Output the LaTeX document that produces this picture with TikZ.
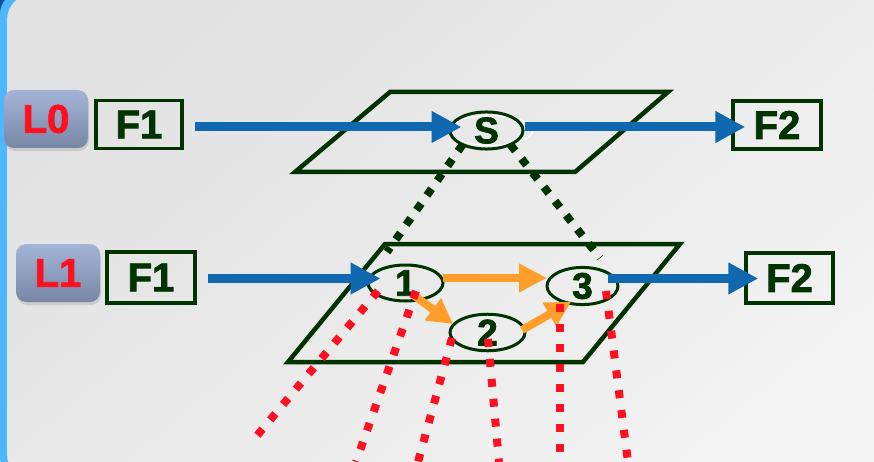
\documentclass[tikz,border=0pt]{standalone}
\usepackage{fontspec}
\setmainfont{Liberation Sans}
\newfontfamily\heavyfont{Liberation Sans}[BoldFeatures={FakeBold=2}]
\usetikzlibrary{arrows.meta,shapes.geometric,shadows}
\definecolor{dkgreen}{HTML}{003300}
\definecolor{flowblue}{HTML}{1068B0}
\definecolor{lightband}{HTML}{4DB8FF}
\definecolor{darkband}{HTML}{1050A0}
\definecolor{orangeA}{HTML}{FF9E2A}
\definecolor{redD}{HTML}{FF1020}
\definecolor{badgeTop}{HTML}{A3B5D6}
\definecolor{badgeBot}{HTML}{7887A6}
\definecolor{bgTop}{HTML}{E2E2E2}
\definecolor{bgBot}{HTML}{F3F3F3}
\tikzset{
  badge/.style={rounded corners=10pt, top color=badgeTop, bottom color=badgeBot, draw=none,
    minimum width=84pt, minimum height=58pt, inner sep=0pt,
    drop shadow={opacity=0.25, shadow xshift=1pt, shadow yshift=-3pt},
    text=redD, font=\heavyfont\bfseries\fontsize{40}{40}\selectfont},
  fbox/.style={draw=dkgreen, line width=3.5pt, inner sep=0pt, text=dkgreen,
    font=\heavyfont\bfseries\fontsize{40}{40}\selectfont},
  ell/.style={ellipse, draw=dkgreen, line width=3pt, inner sep=0pt, text=dkgreen,
    font=\heavyfont\bfseries\fontsize{37}{37}\selectfont},
  plane/.style={draw=dkgreen, line width=4.5pt, line join=miter},
  bluearrow/.style={draw=flowblue, line width=9pt, -{Triangle[length=30pt,width=30pt]}},
  orangearrow/.style={draw=orangeA, line width=8pt, -{Triangle[length=28pt,width=27pt]}},
  orangesmall/.style={draw=orangeA, line width=8pt, -{Triangle[length=25pt,width=26pt]}},
  blackdots/.style={draw=dkgreen, line width=8pt, dash pattern=on 8pt off 10pt},
  reddots/.style={draw=redD, line width=8pt, dash pattern=on 8pt off 12pt},
}
\begin{document}
\begin{tikzpicture}[x=1pt,y=-1pt]
\useasboundingbox (0,0) rectangle (874,462);
% background
\fill[darkband] (0,0) rectangle (40,40);
\fill[lightband, rounded corners=22pt] (0,-8) rectangle (900,480);
\shade[top color=bgTop, bottom color=bgBot, shading angle=40, rounded corners=26pt] (7,-6) rectangle (900,480);
% planes
\coordinate (pa) at (390,92); \coordinate (pb) at (668,92);
\coordinate (pc) at (575,172); \coordinate (pd) at (295,172);
\draw[plane] (pa) -- (pb) -- (pc) -- (pd) -- cycle;
\coordinate (qa) at (385,244); \coordinate (qb) at (680,244);
\coordinate (qc) at (583,362); \coordinate (qd) at (288,362);
\draw[plane] (qa) -- (qb) -- (qc) -- (qd) -- cycle;
% badges and boxes
\node[badge] (L0) at (46,119) {L0};
\node[badge] (L1) at (58,273) {L1};
\node[fbox, minimum width=86pt, minimum height=48pt] (F1a) at (139,124.5) {F1};
\node[fbox, minimum width=88pt, minimum height=48pt] (F2a) at (777,125) {F2};
\node[fbox, minimum width=88pt, minimum height=51pt] (F1b) at (151,277.5) {F1};
\node[fbox, minimum width=87pt, minimum height=50pt] (F2b) at (789.5,278) {F2};
% ellipses
\coordinate (dl) at (387,252);
\coordinate (dr) at (600,258);
\draw[white, line width=1.2pt] (491,130.5) ellipse (42pt and 15pt);
\node[ell, minimum width=73pt, minimum height=35pt] (S) at (486.5,130.5) {S};
\node[ell, minimum width=75pt, minimum height=34pt] (n1) at (405.5,283) {1};
\node[ell, minimum width=75pt, minimum height=35pt] (n2) at (487.5,332.5) {2};
\node[ell, minimum width=71pt, minimum height=32pt] (n3) at (582.5,286) {3};
% black dotted connections
\draw[blackdots] (S.south west) ++(3,0) -- (dl);
\draw[blackdots] (S.south east) ++(-3,0) -- (dr);
% blue flows
\coordinate (ytop) at (0,127);
\coordinate (ybot) at (0,278.5);
\draw[bluearrow, shorten <=11pt, shorten >=-13pt] (F1a.east |- ytop) -- (S.west |- ytop);
\draw[bluearrow, shorten >=-14pt] (S.east |- ytop) -- (F2a.west |- ytop);
\draw[bluearrow, shorten <=11pt, shorten >=-14pt] (F1b.east |- ybot) -- (n1.west |- ybot);
\draw[bluearrow, shorten <=-12pt, shorten >=-14pt] (n3.east |- ybot) -- (F2b.west |- ybot);
% orange flows
\coordinate (o1s) at (443,278); \coordinate (o1e) at (547,278);
\draw[orangearrow] (o1s) -- (o1e);
\coordinate (o2s) at (412,294); \coordinate (o2e) at (453,324);
\draw[orangesmall] (o2s) -- (o2e);
\coordinate (o3s) at (522,330); \coordinate (o3e) at (571,302);
\draw[orangesmall] (o3s) -- (o3e);
% red dotted projections
\coordinate (ra) at (250,444); \coordinate (rb) at (356,462);
\coordinate (rc) at (418,462); \coordinate (rd) at (499,462);
\coordinate (re) at (560,462); \coordinate (rf) at (628,462);
\coordinate (sa) at (378,291); \coordinate (sb) at (416,291);
\coordinate (sc) at (452,338); \coordinate (sd) at (488,339);
\coordinate (se) at (560,304); \coordinate (sf) at (606,291);
\draw[reddots] (sa) -- (ra);
\draw[reddots] (sb) -- (rb);
\draw[reddots] (sc) -- (rc);
\draw[reddots] (sd) -- (rd);
\draw[reddots] (se) -- (re);
\draw[reddots] (sf) -- (rf);
\end{tikzpicture}
\end{document}
